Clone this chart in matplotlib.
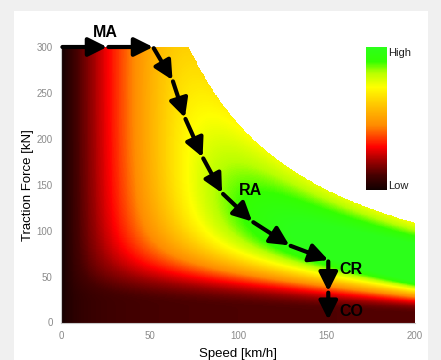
import numpy as np
import matplotlib
matplotlib.use('Agg')
import matplotlib.pyplot as plt
from matplotlib.colors import LinearSegmentedColormap, Normalize
from matplotlib.patches import Rectangle

plt.rcParams['font.family'] = 'Liberation Sans'

# driving route (speed km/h, force kN), one arrow per step
route_speed = [0, 26, 52, 63, 70, 80, 91, 108, 129, 151, 151, 151]
route_force = [300, 300, 300, 264, 223, 180, 141, 110, 84, 68, 34, 3]

phase_names = ['MA', 'RA', 'CR', 'CO']
phase_speed = [25, 107, 164, 164]
phase_force = [316, 144, 58, 11.5]

# traction limits
max_force = 300
max_power = 21700   # kN * km/h
max_speed = 200

# simple loss model -> output/loss ratio
loss_speed = 7.5
loss_force_max = 0.7
loss_force0 = 42.7      # force scale at standstill
loss_force_slope = 0.127
loss_force_exp = 3.0
loss_power = 0.075
loss_power_exp = 2.5
loss_power_speed_exp = 0.8
ratio_max = 11.8

# colour scale (low -> high)
cmap_pos = [0.0, 0.1, 0.2, 0.3, 0.45, 0.6, 0.72, 0.82, 0.9, 1.0]
cmap_col = ['#120000', '#450000', '#9a0000', '#ff0000', '#ff8a00',
            '#ffc800', '#ffff00', '#b8ff00', '#33ff00', '#2cff1a']

speed = np.linspace(0.25, max_speed, 400)
force = np.linspace(0.25, max_force, 600)
V, F = np.meshgrid(speed, force)
p = V * F / max_power
force_scale = loss_force0 - loss_force_slope * V
q = (loss_speed / V
     + loss_force_max * (1 - np.exp(-(force_scale / F) ** loss_force_exp))
     + loss_power * p ** loss_power_exp * (V / max_speed) ** loss_power_speed_exp)
ratio = np.ma.masked_where(p > 1, 1 / q)

cmap = LinearSegmentedColormap.from_list('eff', list(zip(cmap_pos, cmap_col)))
norm = Normalize(0, ratio_max)

fig = plt.figure(figsize=(4.41, 3.6), dpi=100, facecolor='#f0f0f0')
fig.patches.append(Rectangle((14 / 441, 0), 414 / 441, 349 / 360,
                             transform=fig.transFigure, facecolor='white',
                             edgecolor='none', zorder=-10))

ax = fig.add_axes([61 / 441, 37.5 / 360, 354 / 441, 275.5 / 360])
ax.set_facecolor('white')
mesh = ax.pcolormesh(speed, force, ratio, cmap=cmap, norm=norm,
                     shading='auto', rasterized=True)
ax.set_xlim(0, max_speed)
ax.set_ylim(0, max_force)
ax.set_xticks([0, 50, 100, 150, 200])
ax.set_yticks([0, 50, 100, 150, 200, 250, 300])
ax.tick_params(length=0, labelsize=7, labelcolor='#8a8a8a', pad=6)
for s in ['top', 'right']:
    ax.spines[s].set_visible(False)
for s in ['left', 'bottom']:
    ax.spines[s].set_color('#c8c8c8')
    ax.spines[s].set_linewidth(0.8)
ax.set_xlabel('Speed [km/h]', fontsize=9.5, labelpad=5)
ax.set_ylabel('Traction Force [kN]', fontsize=9.5, labelpad=2)

for i in range(len(route_speed) - 1):
    ax.annotate('', xy=(route_speed[i + 1], route_force[i + 1]),
                xytext=(route_speed[i], route_force[i]),
                arrowprops=dict(arrowstyle='-|>,head_length=0.4,head_width=0.2',
                                mutation_scale=28, lw=3, color='black',
                                shrinkA=1, shrinkB=0))

for name, sv, fv in zip(phase_names, phase_speed, phase_force):
    ax.text(sv, fv, name, fontsize=11.5, fontweight='bold', ha='center',
            va='center', clip_on=False)

cax = fig.add_axes([366 / 441, 170 / 360, 21 / 441, 143 / 360])
cb = fig.colorbar(mesh, cax=cax)
cb.outline.set_visible(False)
cax.set_yticks([])
cax.text(1.05, 0.96, 'High', transform=cax.transAxes, fontsize=8,
         color='#202020', va='center', ha='left')
cax.text(1.05, 0.03, 'Low', transform=cax.transAxes, fontsize=8,
         color='#202020', va='center', ha='left')

fig.savefig('out.png', dpi=100, facecolor=fig.get_facecolor())
